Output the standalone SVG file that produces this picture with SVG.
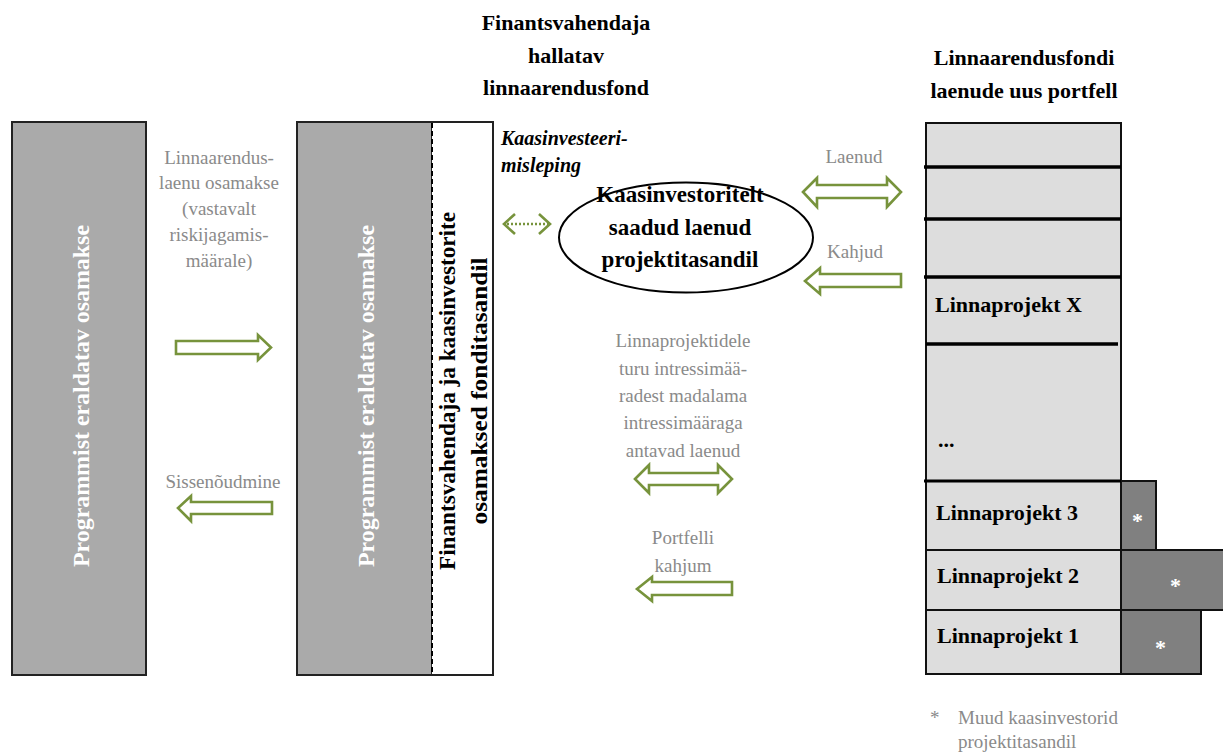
<svg xmlns="http://www.w3.org/2000/svg" width="1223" height="755" viewBox="0 0 1223 755">
<style>
text{font-family:"Liberation Serif","Times New Roman",serif}
.g{fill:#8a8a8a;font-size:19px}
.b{fill:#000;font-weight:bold}
.w{fill:#fff;font-weight:bold;font-size:24px}
.col{fill:#aaaaaa;stroke:#222;stroke-width:2}
.cell{fill:#dddddd;stroke:#111;stroke-width:2}
.dark{fill:#808080;stroke:#111;stroke-width:2}
.sep{stroke:#000;stroke-width:3.5}
.arr{fill:#fff;stroke:#77933c;stroke-width:2.6;stroke-linejoin:miter}
.star{fill:#fff;font-size:22px;font-weight:bold}
</style>
<rect width="1223" height="755" fill="#fff"/>

<g id="title-fund">
<text class="b" font-size="22" text-anchor="middle" x="566" y="30">Finantsvahendaja</text>
<text class="b" font-size="22" text-anchor="middle" x="566" y="63">hallatav</text>
<text class="b" font-size="22" text-anchor="middle" x="566" y="95">linnaarendusfond</text>
</g>
<g id="title-portfolio">
<text class="b" font-size="22" text-anchor="middle" x="1024" y="65">Linnaarendusfondi</text>
<text class="b" font-size="22" text-anchor="middle" x="1024" y="98">laenude uus portfell</text>
</g>

<g id="program-column">
<rect class="col" x="12" y="122" width="134" height="553"/>
<text class="w" text-anchor="middle" transform="translate(89,396) rotate(-90)" textLength="342" lengthAdjust="spacingAndGlyphs">Programmist eraldatav osamakse</text>
</g>

<g id="fund-column">
<rect class="col" x="297" y="122" width="135" height="553"/>
<rect x="432" y="122" width="61" height="553" fill="#fff"/>
<rect x="297" y="122" width="196" height="553" fill="none" stroke="#222" stroke-width="2"/>
<line x1="432" y1="123" x2="432" y2="674" stroke="#000" stroke-width="2" stroke-dasharray="5,3"/>
<text class="w" text-anchor="middle" transform="translate(374,396) rotate(-90)" textLength="342" lengthAdjust="spacingAndGlyphs">Programmist eraldatav osamakse</text>
<text class="b" font-size="23" text-anchor="middle" transform="translate(455,391) rotate(-90)" textLength="358" lengthAdjust="spacingAndGlyphs">Finantsvahendaja ja kaasinvestorite</text>
<text class="b" font-size="23" text-anchor="middle" transform="translate(487,391) rotate(-90)" textLength="267" lengthAdjust="spacingAndGlyphs">osamaksed fonditasandil</text>
</g>

<g id="coinvest-contract">
<text class="b" font-size="20" font-style="italic" x="501" y="145">Kaasinvesteeri-</text>
<text class="b" font-size="20" font-style="italic" x="501" y="172">misleping</text>
</g>

<g id="coinvestor-loans">
<ellipse cx="686" cy="237.5" rx="127" ry="55" fill="#fff" stroke="#000" stroke-width="2"/>
<text class="b" font-size="23" text-anchor="middle" x="680" y="202">Kaasinvestoritelt</text>
<text class="b" font-size="23" text-anchor="middle" x="680" y="235">saadud laenud</text>
<text class="b" font-size="23" text-anchor="middle" x="680" y="267">projektitasandil</text>
</g>

<g id="portfolio">
<rect class="cell" x="926" y="123" width="195" height="358"/>
<line class="sep" x1="924" y1="167" x2="1121" y2="167"/>
<line class="sep" x1="924" y1="219" x2="1121" y2="219"/>
<line class="sep" x1="924" y1="277" x2="1121" y2="277"/>
<line class="sep" x1="926" y1="344" x2="1118" y2="344"/>
<text class="b" font-size="22" x="935" y="312">Linnaprojekt X</text>
<text class="b" font-size="22" x="938" y="447">...</text>
</g>
<g id="project-3">
<rect class="cell" x="926" y="481" width="195" height="69"/>
<rect class="dark" x="1121" y="481" width="35" height="69"/>
<text class="b" font-size="22" x="936" y="520">Linnaprojekt 3</text>
<text class="star" x="1132" y="528">*</text>
</g>
<g id="project-2">
<rect class="cell" x="926" y="550" width="195" height="60"/>
<rect class="dark" x="1121" y="550" width="103" height="60"/>
<text class="b" font-size="22" x="937" y="583">Linnaprojekt 2</text>
<text class="star" x="1170" y="593">*</text>
</g>
<g id="project-1">
<rect class="cell" x="926" y="610" width="195" height="64"/>
<rect class="dark" x="1121" y="610" width="80" height="64"/>
<text class="b" font-size="22" x="937" y="643">Linnaprojekt 1</text>
<text class="star" x="1155" y="655">*</text>
</g>
<line x1="924" y1="481" x2="1121" y2="481" stroke="#000" stroke-width="3"/>

<g id="footnote">
<text class="g" font-size="17" x="930" y="724">*</text>
<text class="g" font-size="19" x="958" y="724">Muud kaasinvestorid</text>
<text class="g" font-size="19" x="958" y="748">projektitasandil</text>
</g>

<g id="labels">
<text class="g" text-anchor="middle" x="219" y="164">Linnaarendus-</text>
<text class="g" text-anchor="middle" x="219" y="189">laenu osamakse</text>
<text class="g" text-anchor="middle" x="219" y="215">(vastavalt</text>
<text class="g" text-anchor="middle" x="219" y="241">riskijagamis-</text>
<text class="g" text-anchor="middle" x="219" y="267">määrale)</text>
<text class="g" text-anchor="middle" x="223" y="488">Sissenõudmine</text>
<text class="g" text-anchor="middle" x="854" y="163">Laenud</text>
<text class="g" text-anchor="middle" x="855" y="258">Kahjud</text>
<text class="g" text-anchor="middle" x="683" y="347">Linnaprojektidele</text>
<text class="g" text-anchor="middle" x="683" y="375">turu intressimää-</text>
<text class="g" text-anchor="middle" x="683" y="402">radest madalama</text>
<text class="g" text-anchor="middle" x="683" y="429">intressimääraga</text>
<text class="g" text-anchor="middle" x="683" y="457">antavad laenud</text>
<text class="g" text-anchor="middle" x="683" y="544">Portfelli</text>
<text class="g" text-anchor="middle" x="683" y="572">kahjum</text>
</g>

<g id="connectors">
<path class="arr" d="M176,341 H258 V335 L271,347.5 L258,360 V354 H176 Z"/>
<path class="arr" d="M272,502 H191 V496 L178,508 L191,521 V514 H272 Z"/>
<path class="arr" d="M803,192 L817,178 V185 H887 V178 L901,192 L887,207 V198 H817 V207 Z"/>
<path class="arr" d="M901,274 H820 V268 L805,281 L820,294 V287 H901 Z"/>
<path class="arr" d="M635,479 L649,465 V473 H718 V465 L732,479 L718,493 V485 H649 V493 Z"/>
<path class="arr" d="M732,582 H652 V577 L637,589 L652,601 V595 H732 Z"/>
<g fill="none" stroke="#77933c" stroke-width="2.6">
<path d="M515,214 L504,224 L515,234"/>
<path d="M539,214 L550,224 L539,234"/>
<line x1="507" y1="224" x2="548" y2="224" stroke-dasharray="2,2"/>
</g>
</g>
</svg>
